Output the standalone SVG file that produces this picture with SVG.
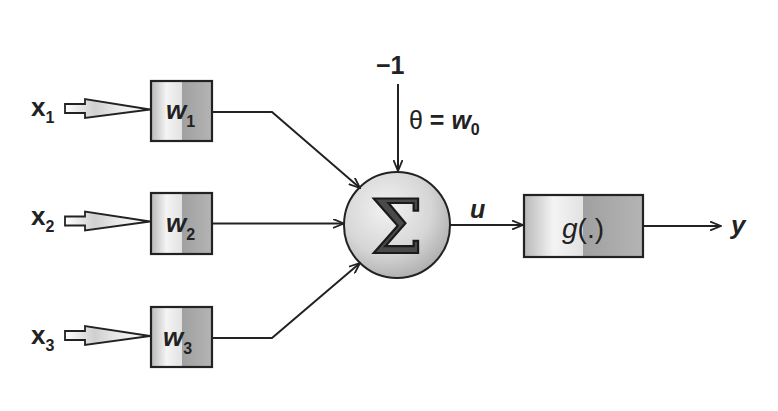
<svg xmlns="http://www.w3.org/2000/svg" width="778" height="411" viewBox="0 0 778 411">
<defs>
  <linearGradient id="boxL" x1="0" y1="0" x2="1" y2="0">
    <stop offset="0" stop-color="#b8b8b8"/>
    <stop offset="0.5" stop-color="#f4f4f4"/>
    <stop offset="1" stop-color="#e2e2e2"/>
  </linearGradient>
  <linearGradient id="boxR" x1="0" y1="0" x2="1" y2="0">
    <stop offset="0" stop-color="#a0a0a0"/>
    <stop offset="1" stop-color="#b4b4b4"/>
  </linearGradient>
  <linearGradient id="head" x1="0" y1="0" x2="1" y2="0">
    <stop offset="0" stop-color="#ffffff"/>
    <stop offset="0.35" stop-color="#cfcfcf"/>
    <stop offset="0.6" stop-color="#e8e8e8"/>
    <stop offset="1" stop-color="#ffffff"/>
  </linearGradient>
  <radialGradient id="sum" cx="0.4" cy="0.35" r="0.7">
    <stop offset="0" stop-color="#f2f2f2"/>
    <stop offset="0.6" stop-color="#d6d6d6"/>
    <stop offset="1" stop-color="#ababab"/>
  </radialGradient>
  <marker id="arr" viewBox="0 0 12 10" refX="11" refY="5" markerWidth="12" markerHeight="10" markerUnits="userSpaceOnUse" orient="auto">
    <path d="M0,0.5 L11,5 L0,9.5" fill="none" stroke="#222" stroke-width="1.8"/>
  </marker>
</defs>
<style>
  .ln { fill: none; stroke: #222; stroke-width: 2; }
  .bx { stroke: #222; stroke-width: 2.2; }
  .t { font-family: "Liberation Sans", Arial, sans-serif; font-weight: bold; fill: #222; }
  .it { font-style: italic; }
  .sub { font-size: 16px; font-style: normal; }
  .hollow { stroke: #222; stroke-width: 1.8; stroke-linejoin: miter; }
</style>
<rect width="778" height="411" fill="#ffffff"/>

<g id="input-x1">
  <text class="t" x="31" y="116" font-size="26">x<tspan class="sub" dy="7">1</tspan></text>
  <path class="hollow" fill="url(#head)" d="M65,104 L85,104 L85,99 L150,109.5 L85,118 L85,113 L65,113 Z"/>
</g>
<g id="input-x2">
  <text class="t" x="31" y="225" font-size="26">x<tspan class="sub" dy="7">2</tspan></text>
  <path class="hollow" fill="url(#head)" d="M65,216.5 L85,216.5 L85,211.5 L150,221.5 L85,230.5 L85,225.5 L65,225.5 Z"/>
</g>
<g id="input-x3">
  <text class="t" x="31" y="344" font-size="26">x<tspan class="sub" dy="7">3</tspan></text>
  <path class="hollow" fill="url(#head)" d="M65,331 L85,331 L85,326 L150,336 L85,345 L85,340 L65,340 Z"/>
</g>

<g id="w1">
  <rect x="151" y="81" width="31" height="60" fill="url(#boxL)"/>
  <rect x="182" y="81" width="30" height="60" fill="url(#boxR)"/>
  <rect class="bx" x="151" y="81" width="61" height="60" fill="none"/>
  <text class="t it" x="166" y="119" font-size="26">w<tspan class="sub" dy="8">1</tspan></text>
</g>
<g id="w2">
  <rect x="151" y="193" width="31" height="61" fill="url(#boxL)"/>
  <rect x="182" y="193" width="30" height="61" fill="url(#boxR)"/>
  <rect class="bx" x="151" y="193" width="61" height="61" fill="none"/>
  <text class="t it" x="166" y="232" font-size="26">w<tspan class="sub" dy="8">2</tspan></text>
</g>
<g id="w3">
  <rect x="151" y="307" width="31" height="60" fill="url(#boxL)"/>
  <rect x="182" y="307" width="30" height="60" fill="url(#boxR)"/>
  <rect class="bx" x="151" y="307" width="61" height="60" fill="none"/>
  <text class="t it" x="163" y="346" font-size="26">w<tspan class="sub" dy="8">3</tspan></text>
</g>

<g id="sum">
  <circle cx="397" cy="225" r="53" fill="url(#sum)" stroke="#222" stroke-width="2"/>
  <text x="397" y="253" text-anchor="middle" font-family="'DejaVu Serif', 'Liberation Serif', serif" font-size="74" fill="#4a4a4a" stroke="#1a1a1a" stroke-width="2.2">Σ</text>
</g>

<g id="bias">
  <text class="t" x="376" y="74" font-size="25">−1</text>
  <text class="t" x="409" y="129" font-size="25"><tspan font-weight="normal">θ</tspan> = <tspan class="it">w</tspan><tspan class="sub" dy="6">0</tspan></text>
</g>

<g id="g">
  <rect x="524" y="195" width="59" height="62" fill="url(#boxL)"/>
  <rect x="583" y="195" width="60" height="62" fill="url(#boxR)"/>
  <rect class="bx" x="524" y="195" width="119" height="62" fill="none"/>
  <text x="583" y="238" text-anchor="middle" font-family="'Liberation Sans', Arial, sans-serif" font-size="28" fill="#222"><tspan font-style="italic">g</tspan>(.)</text>
</g>

<g id="labels">
  <text class="t it" x="470" y="218" font-size="25">u</text>
  <text class="t it" x="731" y="234" font-size="26">y</text>
</g>

<g id="connectors">
  <polyline class="ln" points="212,112 272,112 360,188" marker-end="url(#arr)"/>
  <line class="ln" x1="212" y1="223.5" x2="344" y2="223.5" marker-end="url(#arr)"/>
  <polyline class="ln" points="212,338 272,338 360,263" marker-end="url(#arr)"/>
  <line class="ln" x1="398" y1="84" x2="398" y2="171" marker-end="url(#arr)"/>
  <line class="ln" x1="450" y1="225" x2="523" y2="225" marker-end="url(#arr)"/>
  <line class="ln" x1="643" y1="226" x2="721" y2="226" marker-end="url(#arr)"/>
</g>
</svg>
